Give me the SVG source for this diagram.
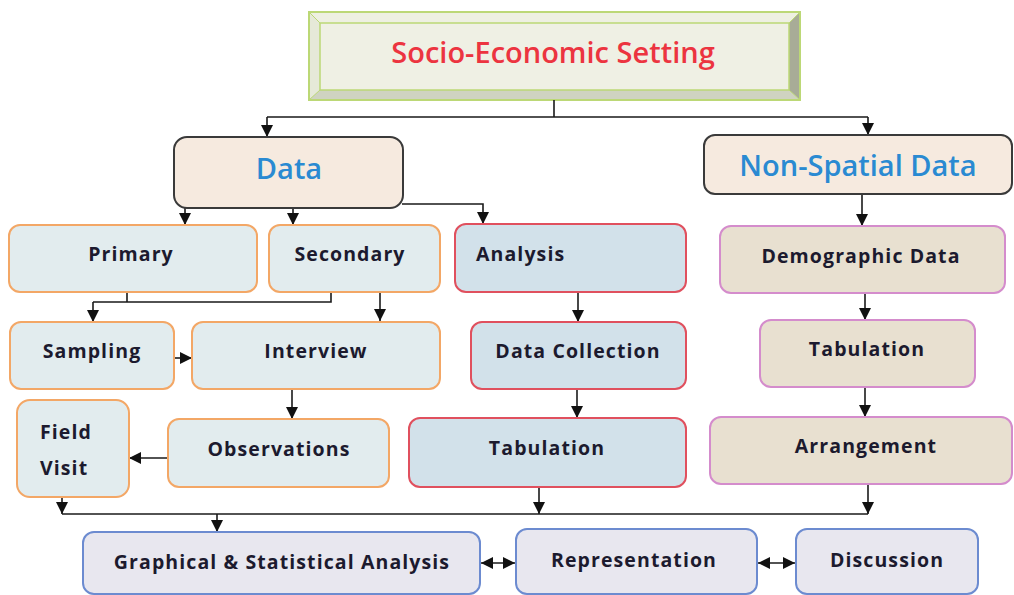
<svg xmlns="http://www.w3.org/2000/svg" width="1014" height="595" viewBox="0 0 1014 595">
  <defs>
    <marker id="arrow" viewBox="0 0 10 10" refX="10" refY="5" markerWidth="12" markerHeight="12" markerUnits="userSpaceOnUse" orient="auto-start-reverse">
      <path d="M0,0 L10,5 L0,10 z" fill="#111"/>
    </marker>
  </defs>
  <style>
    .lbl { font-family: "Open Sans", "Liberation Sans", sans-serif; font-weight: 700; font-size: 19.5px; fill: #1c1a2e; letter-spacing: 1.1px; }
    .mid { text-anchor: middle; }
    .head { font-family: "Open Sans", "Liberation Sans", sans-serif; font-weight: 600; font-size: 29px; fill: #2a8ad2; text-anchor: middle; }
    .orange { fill: #e2ecee; stroke: #f3a766; stroke-width: 2; }
    .red { fill: #d2e1ea; stroke: #e0505e; stroke-width: 2; }
    .pink { fill: #e8e0d0; stroke: #d48ccc; stroke-width: 2; }
    .blue { fill: #e8e7ef; stroke: #6c8bd0; stroke-width: 2; }
    .dark { fill: #f6eadf; stroke: #3a3a3a; stroke-width: 2; }
    .ln { fill: none; stroke: #1a1a1a; stroke-width: 1.6; }
    .arr { fill: none; stroke: #1a1a1a; stroke-width: 1.6; marker-end: url(#arrow); }
    .arr2 { fill: none; stroke: #1a1a1a; stroke-width: 1.6; marker-end: url(#arrow); marker-start: url(#arrow); }
  </style>

  <rect width="1014" height="595" fill="#ffffff"/>

  <!-- bevelled title block -->
  <g id="title">
    <rect x="309" y="12" width="491" height="88" fill="#eff0e4"/>
    <polygon points="309,12 800,12 789,23 320,23" fill="#eef0e2"/>
    <polygon points="309,12 320,23 320,90 309,100" fill="#e6e9d8"/>
    <polygon points="800,12 800,100 789,90 789,23" fill="#a8ac97"/>
    <polygon points="309,100 800,100 789,90 320,90" fill="#cfd3c1"/>
    <rect x="309" y="12" width="491" height="88" fill="none" stroke="#bcd876" stroke-width="2"/>
    <rect x="320" y="23" width="469" height="67" fill="none" stroke="#bcd876" stroke-width="1.5"/>
    <line x1="309" y1="12" x2="320" y2="23" stroke="#bcd876" stroke-width="1"/>
    <line x1="800" y1="12" x2="789" y2="23" stroke="#bcd876" stroke-width="1"/>
    <line x1="309" y1="100" x2="320" y2="90" stroke="#bcd876" stroke-width="1"/>
    <line x1="800" y1="100" x2="789" y2="90" stroke="#bcd876" stroke-width="1"/>
    <text x="553" y="63" font-family="Open Sans, Liberation Sans, sans-serif" font-weight="600" font-size="29" fill="#ec3440" text-anchor="middle">Socio-Economic Setting</text>
  </g>

  <!-- connectors -->
  <g id="connectors">
    <path class="ln" d="M554,100 V117 M267,117 H868"/>
    <path class="arr" d="M267,117 V137"/>
    <path class="arr" d="M868,117 V135"/>
    <path class="arr" d="M185,208 V225"/>
    <path class="arr" d="M293,208 V225"/>
    <path class="arr" d="M402,204 H483 V224"/>
    <path class="ln" d="M127,292 V302 M93,302 H331 V292"/>
    <path class="arr" d="M93,302 V322"/>
    <path class="arr" d="M380,292 V321"/>
    <path class="arr" d="M174,358 H192"/>
    <path class="arr" d="M292,389 V419"/>
    <path class="arr" d="M168,458 H129"/>
    <path class="arr" d="M578,292 V322"/>
    <path class="arr" d="M577,389 V418"/>
    <path class="arr" d="M862,194 V226"/>
    <path class="arr" d="M865,293 V320"/>
    <path class="arr" d="M865,387 V417"/>
    <path class="arr" d="M62,497 V514"/>
    <path class="arr" d="M539,487 V514"/>
    <path class="arr" d="M868,484 V514"/>
    <path class="ln" d="M62,514 H868"/>
    <path class="arr" d="M217,514 V532"/>
    <path class="arr2" d="M481,563 H515"/>
    <path class="arr2" d="M758,563 H795"/>
  </g>

  <g id="data">
    <rect class="dark" x="174" y="137" width="229" height="71" rx="13"/>
    <text class="head" x="289" y="179">Data</text>
  </g>
  <g id="non-spatial">
    <rect class="dark" x="704" y="135" width="308" height="59" rx="11"/>
    <text class="head" x="858" y="176">Non-Spatial Data</text>
  </g>

  <g id="primary">
    <rect class="orange" x="9" y="225" width="248" height="67" rx="11"/>
    <text class="lbl mid" x="131" y="261">Primary</text>
  </g>
  <g id="secondary">
    <rect class="orange" x="269" y="225" width="171" height="67" rx="11"/>
    <text class="lbl mid" x="350" y="261">Secondary</text>
  </g>
  <g id="sampling">
    <rect class="orange" x="10" y="322" width="164" height="67" rx="11"/>
    <text class="lbl mid" x="92" y="358">Sampling</text>
  </g>
  <g id="interview">
    <rect class="orange" x="192" y="322" width="248" height="67" rx="11"/>
    <text class="lbl mid" x="316" y="358">Interview</text>
  </g>
  <g id="observations">
    <rect class="orange" x="168" y="419" width="221" height="68" rx="11"/>
    <text class="lbl mid" x="279" y="456">Observations</text>
  </g>
  <g id="field-visit">
    <rect class="orange" x="17" y="400" width="112" height="97" rx="13"/>
    <text class="lbl" x="40" y="439">Field</text>
    <text class="lbl" x="40" y="475">Visit</text>
  </g>

  <g id="analysis">
    <rect class="red" x="455" y="224" width="231" height="68" rx="11"/>
    <text class="lbl" x="476" y="261">Analysis</text>
  </g>
  <g id="data-collection">
    <rect class="red" x="471" y="322" width="215" height="67" rx="11"/>
    <text class="lbl mid" x="578" y="358">Data Collection</text>
  </g>
  <g id="tabulation-analysis">
    <rect class="red" x="409" y="418" width="277" height="69" rx="11"/>
    <text class="lbl mid" x="547" y="455">Tabulation</text>
  </g>

  <g id="demographic">
    <rect class="pink" x="720" y="226" width="285" height="67" rx="11"/>
    <text class="lbl mid" x="861" y="263">Demographic Data</text>
  </g>
  <g id="tabulation-demographic">
    <rect class="pink" x="760" y="320" width="215" height="67" rx="11"/>
    <text class="lbl mid" x="867" y="356">Tabulation</text>
  </g>
  <g id="arrangement">
    <rect class="pink" x="710" y="417" width="302" height="67" rx="11"/>
    <text class="lbl mid" x="866" y="453">Arrangement</text>
  </g>

  <g id="graphical">
    <rect class="blue" x="83" y="532" width="397" height="62" rx="11"/>
    <text class="lbl mid" x="282" y="569">Graphical &amp; Statistical Analysis</text>
  </g>
  <g id="representation">
    <rect class="blue" x="516" y="529" width="241" height="65" rx="11"/>
    <text class="lbl mid" x="634" y="567">Representation</text>
  </g>
  <g id="discussion">
    <rect class="blue" x="796" y="529" width="182" height="65" rx="11"/>
    <text class="lbl mid" x="887" y="567">Discussion</text>
  </g>
</svg>
